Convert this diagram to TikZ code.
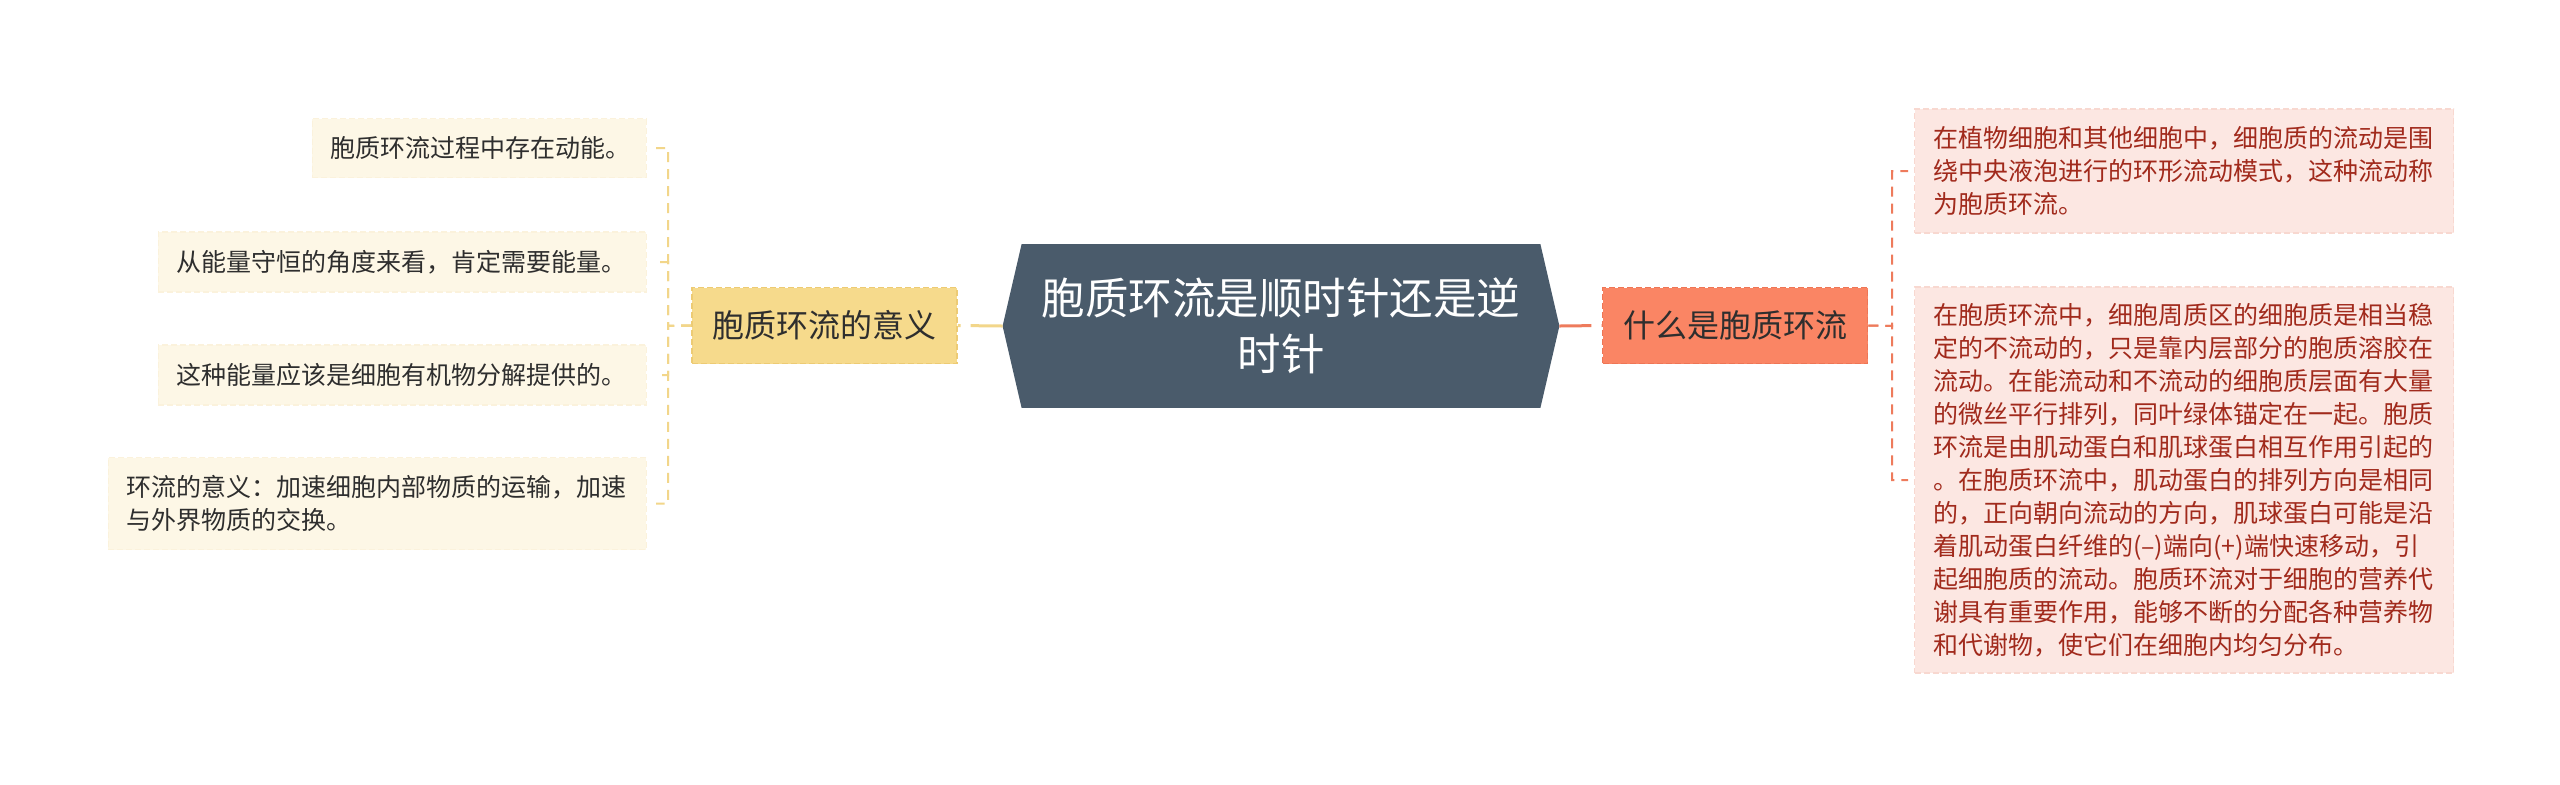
\documentclass[tikz,border=0pt]{standalone}
\usepackage{fontspec}
\setmainfont{Noto Sans CJK SC}
\usetikzlibrary{backgrounds}
\definecolor{cfill}{HTML}{4A5B6B}
\definecolor{yfill}{HTML}{F6DA8C}
\definecolor{yedge}{HTML}{EDCB74}
\definecolor{yline}{HTML}{F2D68A}
\definecolor{lfill}{HTML}{FDF7E6}
\definecolor{ledge}{HTML}{FBF2DC}
\definecolor{rfill}{HTML}{FA8564}
\definecolor{redge}{HTML}{EE7656}
\definecolor{rline}{HTML}{EE7B5C}
\definecolor{pfill}{HTML}{FCE7E2}
\definecolor{pedge}{HTML}{F8D8D0}
\definecolor{ptext}{HTML}{A12A1C}
\definecolor{dtext}{HTML}{2E2E2E}
\begin{document}
\begin{tikzpicture}[x=0.5pt,y=-0.5pt,
  mainlink/.style={line width=1.5pt,dash pattern=on 16pt off 5pt},
  leaflink/.style={line width=1pt,dash pattern=on 5pt off 3.5pt},
  center/.style={text=white,font=\fontsize{21.75pt}{28pt}\selectfont,align=center,
    minimum width=278pt,minimum height=81.5pt,inner sep=0pt},
  branch/.style={text=dtext,font=\fontsize{16pt}{20pt}\selectfont,
    minimum width=132.5pt,minimum height=38pt,inner sep=0pt,
    line width=0.8pt,dash pattern=on 3pt off 1.5pt},
  lleaf/.style={fill=lfill,draw=ledge,line width=0.6pt,dash pattern=on 3pt off 1.5pt,
    text=dtext,font=\fontsize{12.5pt}{16.5pt}\selectfont,align=left,
    inner xsep=9pt,inner ysep=0pt,anchor=east},
  rleaf/.style={fill=pfill,draw=pedge,line width=0.6pt,dash pattern=on 3pt off 1.5pt,
    text=ptext,font=\fontsize{12.5pt}{16.5pt}\selectfont,align=left,
    inner xsep=9.25pt,inner ysep=0pt,anchor=west,text width=251pt}
]
\useasboundingbox (0,0) rectangle (2560,784);

% central topic
\node[center] (c) at (1281,326) {胞质环流是顺时针还是逆\\时针};

% branches
\node[branch,fill=yfill,draw=yedge] (ln) at (824.5,325.5) {胞质环流的意义};
\node[branch,fill=rfill,draw=redge] (rn) at (1735,325.5) {什么是胞质环流};

% left leaves
\node[lleaf,text width=149pt,minimum height=29.5pt] (l1) at (647,148) {胞质环流过程中存在动能。};
\node[lleaf,text width=226pt,minimum height=30pt] (l2) at (647,262) {从能量守恒的角度来看，肯定需要能量。};
\node[lleaf,text width=226pt,minimum height=30pt] (l3) at (647,375) {这种能量应该是细胞有机物分解提供的。};
\node[lleaf,text width=251pt,minimum height=46pt] (l4) at (647,503.5) {环流的意义：加速细胞内部物质的运输，加速\\与外界物质的交换。};

% right leaves
\node[rleaf,minimum height=62pt] (r1) at (1914,171) {在植物细胞和其他细胞中，细胞质的流动是围\\绕中央液泡进行的环形流动模式，这种流动称\\为胞质环流。};
\node[rleaf,minimum height=193pt] (r2) at (1914,480) {在胞质环流中，细胞周质区的细胞质是相当稳\\定的不流动的，只是靠内层部分的胞质溶胶在\\流动。在能流动和不流动的细胞质层面有大量\\的微丝平行排列，同叶绿体锚定在一起。胞质\\环流是由肌动蛋白和肌球蛋白相互作用引起的\\。在胞质环流中，肌动蛋白的排列方向是相同\\的，正向朝向流动的方向，肌球蛋白可能是沿\\着肌动蛋白纤维的(–)端向(+)端快速移动，引\\起细胞质的流动。胞质环流对于细胞的营养代\\谢具有重要作用，能够不断的分配各种营养物\\和代谢物，使它们在细胞内均匀分布。};

\coordinate (lv) at (668,326);
\coordinate (rv) at (1892,326);

% connectors
\draw[mainlink,yline] (c.west) -- (ln.east);
\draw[mainlink,rline] (c.east) -- (rn.west);
\foreach \n in {l1,l2,l3,l4}
  \draw[leaflink,yline] (ln.west) -- (lv) |- ([xshift=4.5pt]\n.east);
\foreach \n in {r1,r2}
  \draw[leaflink,rline] (rn.east) -- (rv) |- ([xshift=-3pt]\n.west);

\begin{scope}[on background layer]
  \fill[white] (0,0) rectangle (2560,784);
  \fill[cfill] (c.west) -- ([xshift=9.5pt]c.north west) -- ([xshift=-9.5pt]c.north east)
    -- (c.east) -- ([xshift=-9.5pt]c.south east) -- ([xshift=9.5pt]c.south west) -- cycle;
\end{scope}
\end{tikzpicture}
\end{document}
